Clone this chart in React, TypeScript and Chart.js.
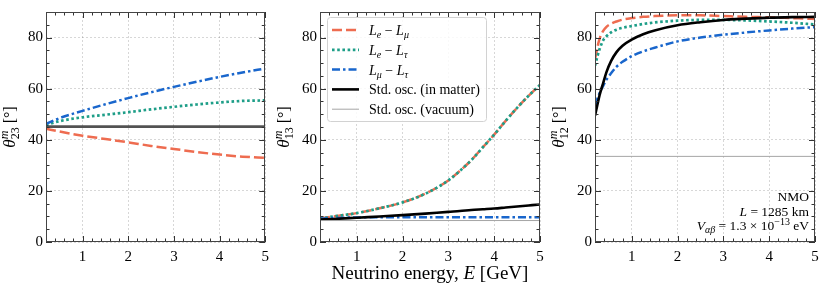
import React, { useEffect, useRef } from 'react';
import { Chart, registerables } from 'chart.js';
Chart.register(...registerables);

const FONT = '"Liberation Serif", "DejaVu Serif", serif';

// ---------- data: theta_23 panel ----------
const E_23 = [0.2, 0.5, 1, 1.5, 2, 2.5, 3, 3.5, 4, 4.5, 5];
const T23_EMU = [44.3, 43.2, 41.6, 40.3, 39.0, 37.6, 36.4, 35.2, 34.2, 33.4, 32.9];
const T23_ETAU = [45.8, 47.3, 48.8, 49.8, 50.8, 51.9, 52.9, 53.8, 54.6, 55.2, 55.4];
const T23_MUTAU = [46.2, 48.5, 51.3, 53.9, 56.3, 58.6, 60.7, 62.7, 64.6, 66.3, 67.9];
const T23_STD = [45.1, 45.1, 45.1, 45.1, 45.1, 45.1, 45.1, 45.1, 45.1, 45.1, 45.1];
const E_VAC = [0.2, 5];
const T23_VAC = [45.0, 45.0];

// ---------- data: theta_13 panel ----------
const E_13 = [0.2, 0.5, 1, 1.5, 2, 2.5, 3, 3.25, 3.5, 3.75, 4, 4.25, 4.5, 4.75, 5];
const T13_EMU = [9.2, 10.0, 11.3, 13.2, 15.5, 18.9, 24.1, 27.8, 32.0, 37.0, 42.0, 47.4, 52.5, 57.2, 61.5];
const T13_ETAU = [9.2, 10.0, 11.3, 13.2, 15.5, 18.9, 24.1, 27.8, 32.0, 37.0, 42.0, 47.4, 52.5, 57.2, 61.5];
const T13_MUTAU = [9.1, 9.4, 9.6, 9.7, 9.7, 9.7, 9.7, 9.7, 9.7, 9.7, 9.7, 9.7, 9.7, 9.7, 9.7];
const T13_STD = [8.8, 9.0, 9.5, 10.0, 10.5, 11.1, 11.8, 12.1, 12.5, 12.8, 13.1, 13.5, 13.9, 14.3, 14.7];
const T13_VAC = [8.4, 8.4];

// ---------- data: theta_12 panel ----------
const E_12 = [0.2, 0.25, 0.3, 0.375, 0.45, 0.55, 0.67, 0.8, 1, 1.25, 1.5, 2, 2.5, 3, 3.5, 4, 4.5, 5];
const T12_EMU = [71.4, 76.0, 79.5, 82.5, 84.2, 85.4, 86.3, 87.0, 87.6, 88.1, 88.4, 88.7, 88.7, 88.4, 88.1, 87.9, 87.6, 87.3];
const T12_ETAU = [69.0, 72.5, 75.5, 78.8, 80.5, 82.0, 83.1, 83.8, 84.5, 85.3, 85.9, 86.6, 86.9, 86.9, 86.7, 86.3, 85.8, 85.1];
const T12_MUTAU = [53.5, 56.0, 58.3, 61.0, 63.5, 66.0, 68.6, 70.5, 72.7, 74.6, 76.0, 78.5, 80.0, 81.1, 82.0, 82.8, 83.5, 84.1];
const T12_STD = [49.4, 53.5, 57.5, 62.0, 66.5, 70.8, 74.3, 76.8, 79.2, 81.3, 82.8, 84.8, 86.0, 86.9, 87.4, 87.8, 88.0, 88.1];
const T12_VAC = [33.5, 33.5];

// ---------- axes ----------
const X_MIN = 0.2, X_MAX = 5;
const Y_MIN = 0, Y_MAX = 90;
const X_TICKS = [1, 2, 3, 4, 5];
const Y_TICKS = [0, 20, 40, 60, 80];
const X_MINOR = [0.2, 0.4, 0.6, 0.8, 1, 1.2, 1.4, 1.6, 1.8, 2, 2.2, 2.4, 2.6, 2.8, 3, 3.2, 3.4, 3.6, 3.8, 4, 4.2, 4.4, 4.6, 4.8, 5];
const Y_MINOR = [0, 5, 10, 15, 20, 25, 30, 35, 40, 45, 50, 55, 60, 65, 70, 75, 80, 85, 90];

const RED = 'rgb(238,108,80)';
const GREEN = 'rgb(30,158,136)';
const BLUE = 'rgb(25,102,204)';
const BLACK = '#000000';
const GRAY = 'rgb(165,165,165)';

type Piece = { t: string; it?: boolean; s?: number; dy?: number; stack?: boolean };

const LEGEND_LABELS: Piece[][] = [
  [{ t: 'L', it: true }, { t: 'e', it: true, s: 10, dy: 3 }, { t: ' − ' }, { t: 'L', it: true }, { t: 'μ', it: true, s: 10, dy: 3 }],
  [{ t: 'L', it: true }, { t: 'e', it: true, s: 10, dy: 3 }, { t: ' − ' }, { t: 'L', it: true }, { t: 'τ', it: true, s: 10, dy: 3 }],
  [{ t: 'L', it: true }, { t: 'μ', it: true, s: 10, dy: 3 }, { t: ' − ' }, { t: 'L', it: true }, { t: 'τ', it: true, s: 10, dy: 3 }],
  [{ t: 'Std. osc. (in matter)' }],
  [{ t: 'Std. osc. (vacuum)' }],
];

const NOTE_LINES: Piece[][] = [
  [{ t: 'NMO' }],
  [{ t: 'L', it: true }, { t: ' = 1285 km' }],
  [{ t: 'V', it: true }, { t: 'αβ', it: true, s: 10, dy: 3 }, { t: ' = 1.3 × 10' }, { t: '−13', s: 10, dy: -5 }, { t: ' eV' }],
];

const X_TITLE: Piece[] = [{ t: 'Neutrino energy, ' }, { t: 'E', it: true }, { t: ' [GeV]' }];

const yTitle = (sub: string): Piece[] => [
  { t: 'θ', it: true, s: 17 },
  { t: 'm', it: true, s: 12, dy: -7 },
  { t: sub, s: 12, dy: 4, stack: true },
  { t: ' [', s: 16 },
  { t: '°', s: 16 },
  { t: ']', s: 16 },
];

function fontOf(p: Piece, base: number) {
  return `${p.it ? 'italic ' : ''}${p.s ?? base}px ${FONT}`;
}

function layoutRich(ctx: CanvasRenderingContext2D, pieces: Piece[], base: number) {
  let end = 0;
  let prevStart = 0;
  const items: { p: Piece; x: number }[] = [];
  for (const p of pieces) {
    ctx.font = fontOf(p, base);
    const w = ctx.measureText(p.t).width;
    const start = p.stack ? prevStart : end;
    items.push({ p, x: start });
    prevStart = start;
    end = Math.max(end, start + w);
  }
  return { items, width: end };
}

function drawRich(ctx: CanvasRenderingContext2D, pieces: Piece[], x: number, y: number, base: number, align: 'left' | 'center' | 'right') {
  const { items, width } = layoutRich(ctx, pieces, base);
  const x0 = align === 'left' ? x : align === 'center' ? x - width / 2 : x - width;
  ctx.textAlign = 'left';
  ctx.textBaseline = 'alphabetic';
  for (const it of items) {
    ctx.font = fontOf(it.p, base);
    ctx.fillText(it.p.t, x0 + it.x, y + (it.p.dy ?? 0));
  }
}

const decoPlugin = {
  id: 'deco',
  afterDraw(chart: any, _args: any, opts: any) {
    const ctx: CanvasRenderingContext2D = chart.ctx;
    const { left, right, top, bottom } = chart.chartArea;
    const xs = chart.scales.x;
    const ys = chart.scales.y;
    ctx.save();
    // inward ticks on all sides
    ctx.strokeStyle = '#333';
    ctx.lineWidth = 1;
    ctx.beginPath();
    for (const v of X_MINOR) {
      const px = Math.round(xs.getPixelForValue(v)) + 0.5;
      const len = Number.isInteger(v) ? 6 : 3.5;
      ctx.moveTo(px, bottom);
      ctx.lineTo(px, bottom - len);
      ctx.moveTo(px, top);
      ctx.lineTo(px, top + len);
    }
    for (const v of Y_MINOR) {
      const py = Math.round(ys.getPixelForValue(v)) + 0.5;
      const len = v % 20 === 0 ? 6 : 3.5;
      ctx.moveTo(left, py);
      ctx.lineTo(left + len, py);
      ctx.moveTo(right, py);
      ctx.lineTo(right - len, py);
    }
    ctx.stroke();
    // frame
    ctx.strokeStyle = '#444';
    ctx.lineWidth = 1;
    ctx.strokeRect(Math.round(left) + 0.5, Math.round(top) + 0.5, Math.round(right - left) - 1, Math.round(bottom - top) - 1);

    ctx.fillStyle = '#000';
    // y title
    if (opts.ytitle) {
      const cy = (top + bottom) / 2;
      ctx.save();
      ctx.translate(15, cy);
      ctx.rotate(-Math.PI / 2);
      drawRich(ctx, opts.ytitle, 0, 0, 16, 'center');
      ctx.restore();
    }
    // x title
    if (opts.xtitle) {
      drawRich(ctx, X_TITLE, (left + right) / 2, 279, 19, 'center');
    }
    // legend
    if (opts.legend) {
      const bx = left + 7, by = top + 5, bw = 159, bh = 104;
      ctx.save();
      ctx.fillStyle = 'rgba(255,255,255,0.85)';
      ctx.strokeStyle = 'rgb(210,210,210)';
      ctx.lineWidth = 1;
      ctx.beginPath();
      (ctx as any).roundRect(bx + 0.5, by + 0.5, bw, bh, 3);
      ctx.fill();
      ctx.stroke();
      ctx.restore();
      const ds = chart.data.datasets;
      ds.forEach((d: any, row: number) => {
        const yy = by + 13 + row * 19.8;
        ctx.save();
        ctx.strokeStyle = d.borderColor;
        ctx.lineWidth = d.borderWidth;
        ctx.setLineDash(d.borderDash || []);
        ctx.beginPath();
        ctx.moveTo(bx + 5, yy);
        ctx.lineTo(bx + 32, yy);
        ctx.stroke();
        ctx.restore();
        ctx.fillStyle = '#000';
        drawRich(ctx, LEGEND_LABELS[row], bx + 42, yy + 5, 14, 'left');
      });
    }
    // annotation
    if (opts.note) {
      const ys0 = [201, 215.5, 230];
      NOTE_LINES.forEach((ln, i) => drawRich(ctx, ln, right - 6, ys0[i], 13.5, 'right'));
    }
    ctx.restore();
  },
};

function series(xs: number[], ys: number[], style: any) {
  return {
    data: xs.map((x, i) => ({ x, y: ys[i] })),
    pointRadius: 0,
    fill: false,
    cubicInterpolationMode: 'monotone',
    borderCapStyle: 'butt',
    ...style,
  };
}

const S_EMU = { borderColor: RED, borderWidth: 2.5, borderDash: [10, 4], order: 5 };
const S_ETAU = { borderColor: GREEN, borderWidth: 2.7, borderDash: [2.6, 2.6], order: 4 };
const S_MUTAU = { borderColor: BLUE, borderWidth: 2.5, borderDash: [8, 3, 2.5, 3], order: 3 };
const S_STD = { borderColor: BLACK, borderWidth: 2.6, order: 2 };
const S_VAC = { borderColor: GRAY, borderWidth: 1, order: 1 };

type Panel = {
  left: number;
  width: number;
  rightPad: number;
  datasets: any[];
  deco: any;
};

const PANELS: Panel[] = [
  {
    left: 0,
    width: 275,
    rightPad: 9,
    datasets: [
      series(E_23, T23_EMU, S_EMU),
      series(E_23, T23_ETAU, S_ETAU),
      series(E_23, T23_MUTAU, S_MUTAU),
      series(E_23, T23_STD, S_STD),
      series(E_VAC, T23_VAC, S_VAC),
    ],
    deco: { ytitle: yTitle('23') },
  },
  {
    left: 274,
    width: 276,
    rightPad: 10,
    datasets: [
      series(E_13, T13_EMU, S_EMU),
      series(E_13, T13_ETAU, S_ETAU),
      series(E_13, T13_MUTAU, S_MUTAU),
      series(E_13, T13_STD, S_STD),
      series(E_VAC, T13_VAC, S_VAC),
    ],
    deco: { ytitle: yTitle('13'), xtitle: true, legend: true },
  },
  {
    left: 549,
    width: 281,
    rightPad: 15,
    datasets: [
      series(E_12, T12_EMU, S_EMU),
      series(E_12, T12_ETAU, S_ETAU),
      series(E_12, T12_MUTAU, S_MUTAU),
      series(E_12, T12_STD, S_STD),
      series(E_VAC, T12_VAC, S_VAC),
    ],
    deco: { ytitle: yTitle('12'), note: true },
  },
];

function makeConfig(p: Panel): any {
  const tickFont = { family: FONT, size: 15 };
  return {
    type: 'line',
    data: { datasets: p.datasets },
    options: {
      animation: false,
      responsive: false,
      maintainAspectRatio: false,
      layout: { padding: { left: 0, right: p.rightPad, top: 10, bottom: 0 } },
      plugins: { legend: { display: false }, tooltip: { enabled: false }, deco: p.deco },
      scales: {
        x: {
          type: 'linear',
          min: X_MIN,
          max: X_MAX,
          afterBuildTicks: (s: any) => {
            s.ticks = X_TICKS.map((v) => ({ value: v }));
          },
          afterFit: (s: any) => {
            s.height = 51;
          },
          ticks: { font: tickFont, color: '#000', padding: 6, maxRotation: 0, autoSkip: false, callback: (v: any) => String(v) },
          grid: { color: 'rgba(0,0,0,0.2)', lineWidth: 0.8, drawTicks: false },
          border: { display: false, dash: [2, 2] },
        },
        y: {
          type: 'linear',
          min: Y_MIN,
          max: Y_MAX,
          afterBuildTicks: (s: any) => {
            s.ticks = Y_TICKS.map((v) => ({ value: v }));
          },
          afterFit: (s: any) => {
            s.width = 46;
          },
          ticks: { font: tickFont, color: '#000', padding: 3, autoSkip: false, callback: (v: any) => String(v) },
          grid: { color: 'rgba(0,0,0,0.2)', lineWidth: 0.8, drawTicks: false },
          border: { display: false, dash: [2, 2] },
        },
      },
    },
    plugins: [decoPlugin],
  };
}

function PanelChart({ p }: { p: Panel }) {
  const ref = useRef<HTMLCanvasElement | null>(null);
  useEffect(() => {
    if (!ref.current) return;
    const chart = new Chart(ref.current, makeConfig(p));
    return () => chart.destroy();
  }, [p]);
  return (
    <canvas
      ref={ref}
      width={p.width}
      height={293}
      style={{ position: 'absolute', left: p.left, top: 0, width: p.width, height: 293 }}
    />
  );
}

export default function App() {
  return (
    <div style={{ position: 'absolute', left: 0, top: 0, width: 830, height: 293, background: '#fff', overflow: 'hidden' }}>
      {PANELS.map((p, i) => (
        <PanelChart key={i} p={p} />
      ))}
    </div>
  );
}
